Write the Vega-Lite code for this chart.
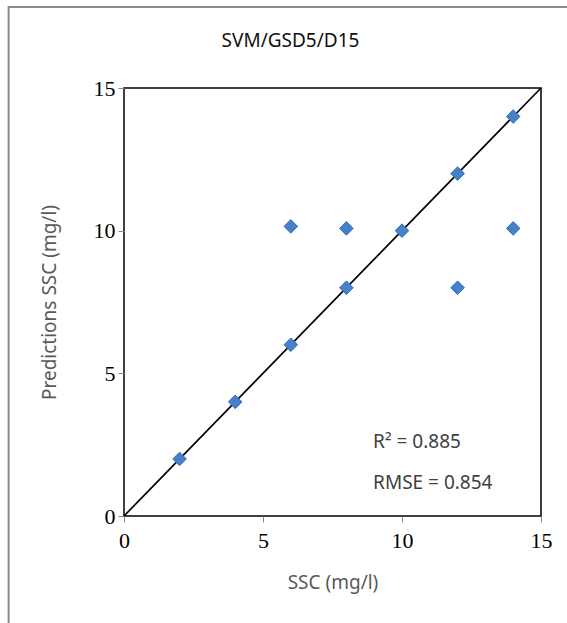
{
  "$schema": "https://vega.github.io/schema/vega-lite/v6.json",
  "width": 417,
  "height": 428,
  "autosize": {"type": "none"},
  "padding": {"left": 124, "top": 88, "right": 26, "bottom": 107},
  "background": "white",
  "title": {
    "text": "SVM/GSD5/D15",
    "font": "Noto Sans",
    "fontSize": 19,
    "fontWeight": "normal",
    "color": "#111111",
    "dx": -42,
    "offset": -45
  },
  "config": {"view": {"stroke": "black", "strokeWidth": 1.5}},
  "data": {
    "values": [
      {"ssc": 2, "pred": 2},
      {"ssc": 4, "pred": 4},
      {"ssc": 6, "pred": 6},
      {"ssc": 6, "pred": 10.15},
      {"ssc": 8, "pred": 8},
      {"ssc": 8, "pred": 10.08},
      {"ssc": 10, "pred": 10},
      {"ssc": 12, "pred": 12},
      {"ssc": 12, "pred": 8},
      {"ssc": 14, "pred": 14},
      {"ssc": 14, "pred": 10.08}
    ]
  },
  "layer": [
    {
      "data": {"values": [{}]},
      "mark": {"type": "rect", "fill": null, "stroke": "#8a8a8a", "strokeWidth": 2},
      "encoding": {
        "x": {"datum": -4.15, "type": "quantitative", "scale": {"domain": [0, 15], "nice": false}},
        "x2": {"datum": 16.6},
        "y": {"datum": -4.3, "type": "quantitative", "scale": {"domain": [0, 15], "nice": false}},
        "y2": {"datum": 17.84}
      }
    },
    {
      "data": {"values": [{}]},
      "mark": {"type": "rule", "color": "black", "strokeWidth": 1.7},
      "encoding": {
        "x": {"datum": 0, "type": "quantitative"},
        "x2": {"datum": 15},
        "y": {"datum": 0, "type": "quantitative"},
        "y2": {"datum": 15}
      }
    },
    {
      "mark": {"type": "point", "shape": "diamond", "filled": true, "size": 185, "fill": "#4681c9", "stroke": "#2a6fc0", "strokeWidth": 1, "opacity": 1},
      "encoding": {
        "x": {
          "field": "ssc",
          "type": "quantitative",
          "scale": {"domain": [0, 15], "nice": false},
          "axis": {
            "title": "SSC (mg/l)",
            "titleFont": "Noto Sans",
            "titleFontSize": 19,
            "titleFontWeight": "normal",
            "titleColor": "#595959",
            "titlePadding": 22,
            "labelFont": "Liberation Serif",
            "labelFontSize": 22,
            "labelColor": "black",
            "labelPadding": 8,
            "labelFlush": false,
            "labelOverlap": false,
            "values": [0, 5, 10, 15],
            "tickColor": "#888888",
            "tickSize": 6,
            "domain": false,
            "grid": false
          }
        },
        "y": {
          "field": "pred",
          "type": "quantitative",
          "scale": {"domain": [0, 15], "nice": false},
          "axis": {
            "title": "Predictions SSC (mg/l)",
            "titleFont": "Noto Sans",
            "titleFontSize": 19,
            "titleFontWeight": "normal",
            "titleColor": "#595959",
            "titlePadding": 34,
            "labelFont": "Liberation Serif",
            "labelFontSize": 22,
            "labelColor": "black",
            "labelPadding": 3,
            "labelFlush": false,
            "labelOverlap": false,
            "values": [0, 5, 10, 15],
            "tickColor": "#888888",
            "tickSize": 6,
            "domain": false,
            "grid": false
          }
        }
      }
    },
    {
      "data": {"values": [{}]},
      "mark": {"type": "text", "text": "R² = 0.885", "font": "Noto Sans", "fontSize": 19, "color": "#404040", "align": "left", "baseline": "middle"},
      "encoding": {
        "x": {"datum": 8.96, "type": "quantitative"},
        "y": {"datum": 2.6, "type": "quantitative"}
      }
    },
    {
      "data": {"values": [{}]},
      "mark": {"type": "text", "text": "RMSE = 0.854", "font": "Noto Sans", "fontSize": 19, "color": "#404040", "align": "left", "baseline": "middle"},
      "encoding": {
        "x": {"datum": 8.96, "type": "quantitative"},
        "y": {"datum": 1.16, "type": "quantitative"}
      }
    }
  ]
}
